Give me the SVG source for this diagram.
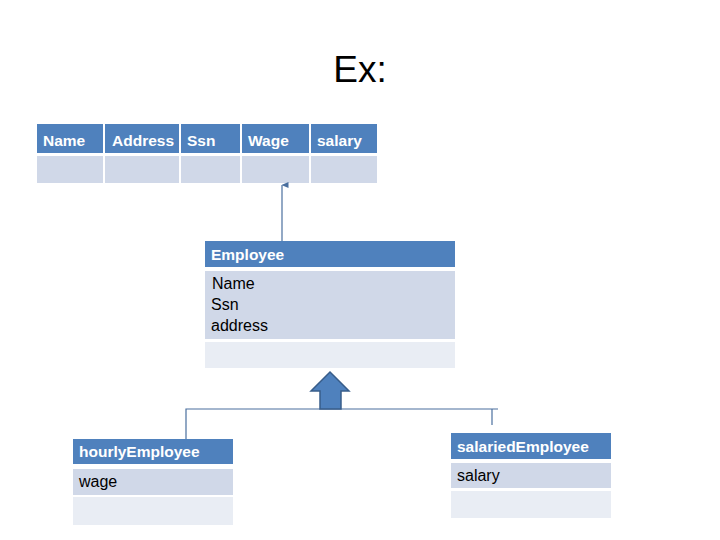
<svg xmlns="http://www.w3.org/2000/svg" width="720" height="540" viewBox="0 0 720 540">
<defs>
<style>
.hd{fill:#4f81bd}
.b1{fill:#d0d8e8}
.b2{fill:#e9edf4}
.ht{font-family:"Liberation Sans",Arial,sans-serif;font-weight:bold;font-size:15.5px;fill:#ffffff}
.bt{font-family:"Liberation Sans",Arial,sans-serif;font-size:16px;fill:#000000}
.ln{stroke:#4a6f9e;stroke-width:1.2;fill:none}
</style>
<marker id="ah" viewBox="0 0 6 8" refX="3" refY="0.5" markerWidth="6" markerHeight="8" markerUnits="userSpaceOnUse" orient="auto-start-reverse">
<path d="M0,7 L3,0 L6,7 Z" fill="#4a6f9e"/>
</marker>
</defs>
<rect width="720" height="540" fill="#ffffff"/>
<text x="360" y="82" text-anchor="middle" font-family="Liberation Sans,Arial,sans-serif" font-size="37" fill="#000">Ex:</text>

<g id="table">
<rect class="hd" x="37" y="124" width="66" height="29"/>
<rect class="hd" x="105" y="124" width="74" height="29"/>
<rect class="hd" x="181" y="124" width="59" height="29"/>
<rect class="hd" x="242" y="124" width="67" height="29"/>
<rect class="hd" x="311" y="124" width="66" height="29"/>
<rect class="b1" x="37" y="156" width="66" height="27"/>
<rect class="b1" x="105" y="156" width="74" height="27"/>
<rect class="b1" x="181" y="156" width="59" height="27"/>
<rect class="b1" x="242" y="156" width="67" height="27"/>
<rect class="b1" x="311" y="156" width="66" height="27"/>
<text class="ht" x="43" y="146">Name</text>
<text class="ht" x="112" y="146">Address</text>
<text class="ht" x="187" y="146">Ssn</text>
<text class="ht" x="248" y="146">Wage</text>
<text class="ht" x="317" y="146">salary</text>
</g>

<g id="employee">
<rect class="hd" x="205" y="241" width="250" height="26"/>
<rect class="b1" x="205" y="271" width="250" height="68"/>
<rect class="b2" x="205" y="342" width="250" height="26"/>
<text class="ht" x="211" y="260">Employee</text>
<text class="bt" x="212" y="289">Name</text>
<text class="bt" x="211" y="310">Ssn</text>
<text class="bt" x="211" y="331">address</text>
</g>

<g id="hourlyEmployee">
<rect class="hd" x="73" y="439" width="160" height="25"/>
<rect class="b1" x="73" y="469" width="160" height="26"/>
<rect class="b2" x="73" y="497" width="160" height="28"/>
<text class="ht" x="79" y="457">hourlyEmployee</text>
<text class="bt" x="79" y="487">wage</text>
</g>

<g id="salariedEmployee">
<rect class="hd" x="451" y="433" width="160" height="26"/>
<rect class="b1" x="451" y="463" width="160" height="25"/>
<rect class="b2" x="451" y="491" width="160" height="27"/>
<text class="ht" x="457" y="452">salariedEmployee</text>
<text class="bt" x="457" y="481">salary</text>
</g>

<g id="connectors">
<line class="ln" x1="282" y1="241" x2="282" y2="185" marker-end="url(#ah)"/>
<polyline class="ln" points="186,439 186,409 498,409"/>
<line class="ln" x1="492" y1="409" x2="492" y2="425"/>
<path d="M330,372 L349,391 L341,391 L341,409 L320,409 L320,391 L311,391 Z" fill="#4f81bd" stroke="#385d8a" stroke-width="1.5"/>
</g>
</svg>
